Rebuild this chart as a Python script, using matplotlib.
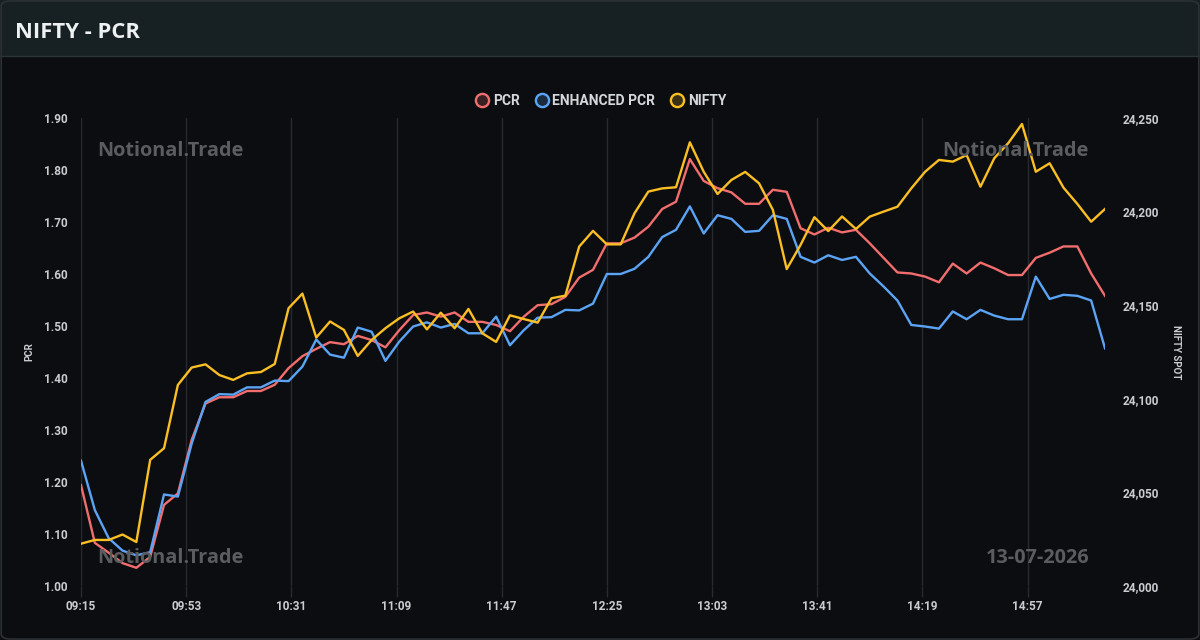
import matplotlib
matplotlib.use("Agg")
import matplotlib.pyplot as plt
from matplotlib.lines import Line2D
from matplotlib.patches import Rectangle, FancyBboxPatch
from matplotlib.ticker import FuncFormatter
import pandas as pd

# 5-minute snapshots, 09:15 -> 15:25
times = pd.date_range("2026-07-13 09:15", "2026-07-13 15:25", freq="5min")

pcr = [1.194, 1.083, 1.064, 1.044, 1.035, 1.056, 1.156, 1.178, 1.281, 1.351,
       1.363, 1.363, 1.375, 1.375, 1.387, 1.419, 1.442, 1.456, 1.469, 1.465,
       1.481, 1.473, 1.459, 1.492, 1.521, 1.526, 1.518, 1.526, 1.508, 1.508,
       1.502, 1.490, 1.518, 1.540, 1.542, 1.556, 1.593, 1.608, 1.659, 1.659,
       1.670, 1.691, 1.725, 1.739, 1.821, 1.779, 1.765, 1.757, 1.735, 1.735,
       1.762, 1.758, 1.688, 1.676, 1.689, 1.680, 1.685, 1.659, 1.631, 1.603,
       1.601, 1.595, 1.584, 1.620, 1.601, 1.622, 1.611, 1.598, 1.598, 1.631,
       1.641, 1.653, 1.653, 1.601, 1.558]

enhanced_pcr = [1.241, 1.146, 1.092, 1.068, 1.059, 1.065, 1.176, 1.172, 1.274, 1.354,
                1.369, 1.368, 1.382, 1.382, 1.395, 1.394, 1.422, 1.474, 1.445, 1.439,
                1.497, 1.489, 1.433, 1.470, 1.499, 1.507, 1.497, 1.504, 1.486, 1.486,
                1.518, 1.463, 1.492, 1.516, 1.517, 1.531, 1.530, 1.543, 1.600, 1.600,
                1.610, 1.633, 1.671, 1.685, 1.730, 1.678, 1.713, 1.706, 1.681, 1.683,
                1.713, 1.706, 1.633, 1.622, 1.636, 1.627, 1.633, 1.601, 1.576, 1.549,
                1.502, 1.499, 1.495, 1.528, 1.513, 1.531, 1.520, 1.513, 1.513, 1.595,
                1.552, 1.560, 1.558, 1.549, 1.457]

nifty = [24022.6, 24024.6, 24024.6, 24027.5, 24023.5, 24067.4, 24073.6, 24107.4, 24116.7, 24118.4,
         24112.7, 24110.1, 24113.6, 24114.3, 24118.6, 24148.4, 24156.2, 24132.7, 24141.3, 24136.8,
         24122.9, 24131.4, 24137.7, 24143.0, 24146.6, 24137.1, 24146.0, 24137.7, 24148.0, 24135.0,
         24130.4, 24144.6, 24142.6, 24140.7, 24153.7, 24155.1, 24181.3, 24189.7, 24182.5, 24182.5,
         24199.1, 24210.7, 24212.4, 24213.0, 24237.0, 24221.3, 24209.4, 24216.9, 24221.2, 24215.1,
         24200.9, 24169.3, 24182.2, 24197.0, 24189.6, 24197.4, 24190.7, 24197.3, 24200.0, 24202.6,
         24212.4, 24221.3, 24227.6, 24226.7, 24230.2, 24213.3, 24228.5, 24236.5, 24246.8, 24221.3,
         24225.8, 24212.8, 24204.1, 24194.6, 24201.4]

tick_labels = ["09:15", "09:53", "10:31", "11:09", "11:47",
               "12:25", "13:03", "13:41", "14:19", "14:57"]
pcr_ticks = [1.00, 1.10, 1.20, 1.30, 1.40, 1.50, 1.60, 1.70, 1.80, 1.90]
nifty_ticks = [24000, 24050, 24100, 24150, 24200, 24250]

RED = "#f26d6d"
BLUE = "#5ba4f5"
YELLOW = "#fbbf24"
BG = "#0b0d10"
GRID = "#272a30"
TICK = "#c9ccd1"

fig = plt.figure(figsize=(12, 6.4), dpi=100, facecolor=BG)

# header band + frame
fig.patches.append(Rectangle((0, 1 - 56 / 640), 1, 56 / 640, transform=fig.transFigure,
                             facecolor="#172023", edgecolor="none", zorder=0))
fig.add_artist(Line2D([0, 1], [1 - 56 / 640] * 2, transform=fig.transFigure,
                      color="#2b3437", lw=1))
fig.patches.append(FancyBboxPatch((0.001, 0.0015), 0.998, 0.997,
                                  boxstyle="round,pad=0,rounding_size=0.008",
                                  transform=fig.transFigure, facecolor="none",
                                  edgecolor="#2b3135", lw=1.2, zorder=5))
fig.text(15 / 1200, 1 - 32 / 640, "NIFTY - PCR", family="Open Sans", weight="bold",
         fontsize=15.8, color="#eef1f2", va="center", ha="left")

ax = fig.add_axes([81 / 1200, 1 - 586 / 640, 1024 / 1200, 468 / 640])
ax.set_facecolor(BG)
ax2 = ax.twinx()

ax.plot(times, pcr, color=RED, lw=1.7, zorder=3)
ax.plot(times, enhanced_pcr, color=BLUE, lw=1.7, zorder=3)
ax2.plot(times, nifty, color=YELLOW, lw=1.7, zorder=3)

ax.set_xlim(times[0], times[-1])
ax.set_ylim(1.0, 1.9)
ax2.set_ylim(24000, 24250)

tick_pos = [pd.Timestamp("2026-07-13 " + t) for t in tick_labels]
ax.set_xticks(tick_pos)
ax.set_xticklabels(tick_labels)
ax.set_yticks(pcr_ticks)
ax.set_yticklabels([f"{v:.2f}" for v in pcr_ticks])
ax2.set_yticks(nifty_ticks)
ax2.yaxis.set_major_formatter(FuncFormatter(lambda v, p: f"{v:,.0f}"))

ax.grid(axis="x", color=GRID, lw=1)
ax.set_axisbelow(True)
for a in (ax, ax2):
    for s in a.spines.values():
        s.set_visible(False)
ax.tick_params(axis="x", colors=GRID, length=8, width=1, pad=2)
ax.tick_params(axis="y", length=0, pad=9.5)
ax2.tick_params(axis="y", length=0, pad=13)
for lab in ax.get_xticklabels() + ax.get_yticklabels() + ax2.get_yticklabels():
    lab.set_color(TICK)
    lab.set_fontsize(8.5)
    lab.set_fontweight("bold")
    lab.set_family("Roboto")

ax.set_ylabel("PCR", color=TICK, fontsize=7, family="Roboto", weight="bold", labelpad=7)
ax2.set_ylabel("NIFTY SPOT", color=TICK, fontsize=7, family="Roboto", weight="bold",
               rotation=270, labelpad=8, va="bottom")

# watermarks
wm = dict(family="Open Sans", weight="bold", fontsize=14.3, color="#5a5c5f",
          va="center", zorder=1)
fig.text(97 / 1200, 1 - 151 / 640, "Notional.Trade", ha="left", **wm)
fig.text(1089 / 1200, 1 - 151 / 640, "Notional.Trade", ha="right", **wm)
fig.text(97 / 1200, 1 - 558 / 640, "Notional.Trade", ha="left", **wm)
fig.text(1089 / 1200, 1 - 558 / 640, "13-07-2026", ha="right", **wm)

handles = [Line2D([], [], ls="none", marker="o", ms=9.5, mew=1.7, mec=c, mfc=c + "33")
           for c in (RED, BLUE, YELLOW)]
fig.legend(handles, ["PCR", "ENHANCED PCR", "NIFTY"], loc="center",
           bbox_to_anchor=(0.5, 1 - 101 / 640), ncol=3, frameon=False,
           handletextpad=0.15, columnspacing=1.0, handlelength=1.2,
           prop=dict(family="Roboto", weight="bold", size=10), labelcolor="#d4d7db")

fig.savefig("out.png", dpi=100, facecolor=BG)
